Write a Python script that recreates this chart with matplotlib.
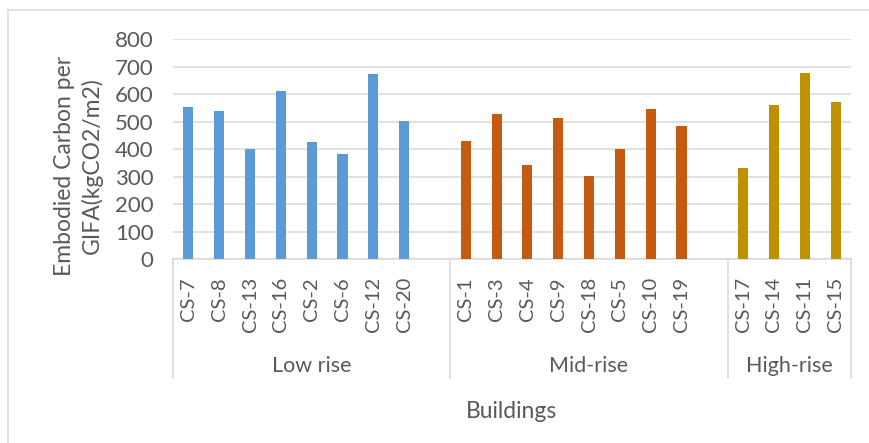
import numpy as np
import matplotlib
matplotlib.use("Agg")
import matplotlib.pyplot as plt
import matplotlib.transforms as mtransforms
from matplotlib.lines import Line2D

plt.rcParams["font.family"] = ["Lato", "DejaVu Sans"]

# Embodied carbon per GIFA (kgCO2/m2) for each case study, by building height
low_names = ["CS-7", "CS-8", "CS-13", "CS-16", "CS-2", "CS-6", "CS-12", "CS-20"]
low_vals = [552, 540, 399, 613, 425, 382, 674, 501]

mid_names = ["CS-1", "CS-3", "CS-4", "CS-9", "CS-18", "CS-5", "CS-10", "CS-19"]
mid_vals = [429, 527, 341, 515, 302, 399, 545, 483]

high_names = ["CS-17", "CS-14", "CS-11", "CS-15"]
high_vals = [333, 561, 677, 571]

group_names = ["Low rise", "Mid-rise", "High-rise"]
group_colors = ["#5B9BD5", "#C55A11", "#BF9000"]
y_ticks = [0, 100, 200, 300, 400, 500, 600, 700, 800]

text_grey = "#595959"
line_grey = "#D9D9D9"

W, H = 870, 443
fig = plt.figure(figsize=(W / 100, H / 100), dpi=100)
ax = fig.add_axes([173 / W, 1 - 259 / H, (851 - 173) / W, (259 - 39.3) / H])

groups = [(low_names, low_vals), (mid_names, mid_vals), (high_names, high_vals)]

# lay the groups out one after another, leaving an empty slot after each
# of the first two groups like the spreadsheet's blank row
all_pos, all_names, spans = [], [], []
start = 0
for i, (names, vals) in enumerate(groups):
    pos = start + np.arange(len(names))
    ax.bar(pos, vals, width=0.33, color=group_colors[i], zorder=3)
    all_pos.extend(pos)
    all_names.extend(names)
    last = i == len(groups) - 1
    end = start + len(names) - 0.5 if last else start + len(names) + 0.5
    spans.append((start - 0.5, end))
    start += len(names) + 1

ax.set_xlim(spans[0][0], spans[-1][1])
ax.set_ylim(0, 800)
ax.set_yticks(y_ticks)
ax.set_xticks(all_pos)
ax.set_xticklabels(all_names, rotation=90)
ax.tick_params(axis="both", length=0, colors=text_grey)
ax.tick_params(axis="y", labelsize=16, pad=14)
ax.tick_params(axis="x", labelsize=14.5, pad=13)

ax.yaxis.grid(True, color=line_grey, linewidth=1.1, zorder=0)
ax.set_axisbelow(True)
for side in ["left", "right", "top"]:
    ax.spines[side].set_visible(False)
ax.spines["bottom"].set_color(line_grey)
ax.spines["bottom"].set_linewidth(1.1)

# second level of the category axis: dividers and group names
trans = mtransforms.blended_transform_factory(ax.transData, ax.transAxes)
sep_bottom = -(378 - 259) / (259 - 39.3)
edges = sorted(set([s for span in spans for s in span]))
for x in edges:
    ax.add_line(Line2D([x, x], [0, sep_bottom], transform=trans, color=line_grey,
                       linewidth=1.1, clip_on=False))
label_y = -(372 - 259) / (259 - 39.3)
for (a, b), name in zip(spans, group_names):
    ax.text((a + b) / 2, label_y, name, transform=trans, ha="center", va="baseline",
            fontsize=15.5, color=text_grey)

ax.text(0.5, -(418 - 259) / (259 - 39.3), "Buildings", transform=ax.transAxes,
        ha="center", va="baseline", fontsize=16.5, color=text_grey)

fig.text(78.5 / W, 1 - 166 / H, "Embodied Carbon per\nGIFA(kgCO2/m2)", rotation=90,
         ha="center", va="center", multialignment="center", linespacing=1.3,
         fontsize=16.5, color=text_grey)

# chart frame
fig.add_artist(Line2D([8 / W, 1], [1 - 10 / H, 1 - 10 / H], color=line_grey, linewidth=1.1))
fig.add_artist(Line2D([8 / W, 8 / W], [0, 1 - 10 / H], color=line_grey, linewidth=1.1))

fig.savefig("out.png", dpi=100)
